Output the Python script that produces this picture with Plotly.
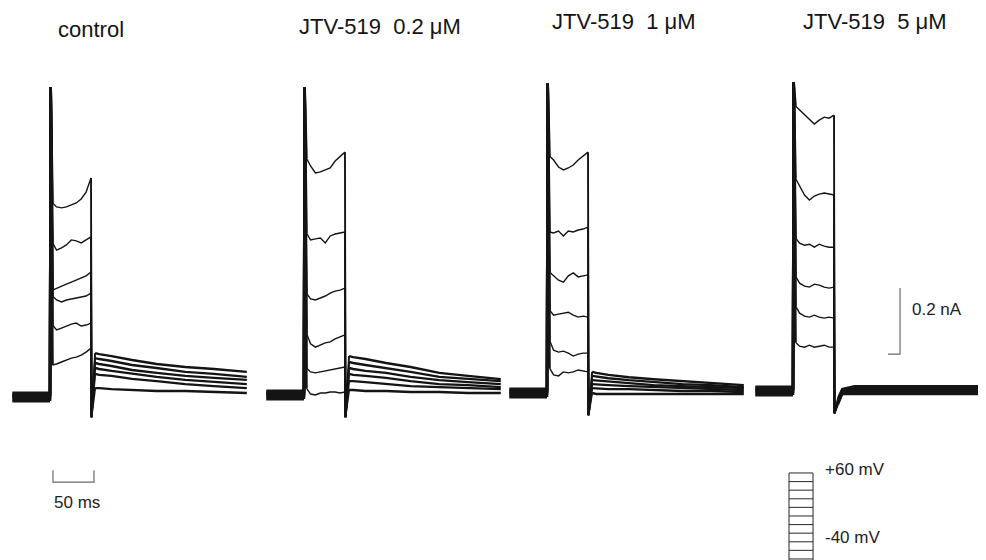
import plotly.graph_objects as go

# ---------------- data ----------------
PANEL_LABELS = ["control", "JTV-519\u00a0\u00a00.2 \u03bcM", "JTV-519\u00a0\u00a01 \u03bcM", "JTV-519\u00a0\u00a05 \u03bcM"]

# time points (ms, relative to step onset)
PRE_T = [-46, 0]
SPIKE_T = 0.8
STEP_T = [3, 8, 14, 20, 26, 32, 38, 44, 50]
OFF_T = 50.6
TAIL_T = [55, 60, 75, 100, 130, 165, 200, 240]

# holding current spread of the overlaid sweeps (nA, relative to baseline)
PRE_LEVELS = [0.012, 0.006, 0.000, -0.006, -0.012, 0.003]

SPIKE_PEAK = [0.939, 0.933, 0.939, 0.936]          # capacitive transient peak (nA)
OFF_UNDERSHOOT = [-0.061, -0.067, -0.067, -0.067]  # off transient (nA)

step_control = [
    [0.588, 0.576, 0.573, 0.576, 0.582, 0.588, 0.600, 0.621, 0.664],
    [0.467, 0.445, 0.452, 0.461, 0.476, 0.473, 0.467, 0.476, 0.485],
    [0.324, 0.330, 0.336, 0.342, 0.348, 0.355, 0.361, 0.367, 0.379],
    [0.306, 0.294, 0.288, 0.294, 0.297, 0.300, 0.303, 0.306, 0.315],
    [0.218, 0.203, 0.209, 0.215, 0.221, 0.224, 0.215, 0.218, 0.224],
    [0.097, 0.100, 0.106, 0.112, 0.118, 0.121, 0.127, 0.136, 0.148],
]
step_jtv02 = [
    [0.718, 0.694, 0.673, 0.676, 0.682, 0.688, 0.709, 0.724, 0.736],
    [0.491, 0.470, 0.473, 0.476, 0.461, 0.482, 0.488, 0.491, 0.494],
    [0.309, 0.291, 0.288, 0.294, 0.300, 0.309, 0.315, 0.318, 0.324],
    [0.188, 0.155, 0.145, 0.152, 0.158, 0.161, 0.170, 0.176, 0.182],
    [0.082, 0.070, 0.067, 0.070, 0.073, 0.076, 0.079, 0.082, 0.085],
    [0.021, 0.003, 0.000, 0.006, 0.006, 0.009, 0.009, 0.006, 0.009],
]
step_jtv1 = [
    [0.718, 0.706, 0.685, 0.676, 0.682, 0.691, 0.706, 0.718, 0.730],
    [0.488, 0.485, 0.491, 0.476, 0.491, 0.488, 0.494, 0.497, 0.503],
    [0.367, 0.355, 0.342, 0.336, 0.355, 0.364, 0.352, 0.355, 0.358],
    [0.252, 0.236, 0.239, 0.242, 0.245, 0.236, 0.230, 0.233, 0.230],
    [0.161, 0.130, 0.124, 0.127, 0.121, 0.112, 0.118, 0.121, 0.121],
    [0.076, 0.055, 0.052, 0.064, 0.061, 0.064, 0.070, 0.067, 0.064],
]
step_jtv5 = [
    [0.864, 0.852, 0.836, 0.821, 0.809, 0.821, 0.830, 0.827, 0.836],
    [0.645, 0.621, 0.594, 0.579, 0.591, 0.597, 0.600, 0.597, 0.594],
    [0.464, 0.448, 0.442, 0.445, 0.436, 0.445, 0.439, 0.436, 0.436],
    [0.348, 0.327, 0.318, 0.315, 0.324, 0.321, 0.315, 0.312, 0.315],
    [0.258, 0.236, 0.227, 0.224, 0.230, 0.224, 0.221, 0.224, 0.221],
    [0.148, 0.136, 0.133, 0.139, 0.133, 0.136, 0.139, 0.133, 0.133],
]

tail_control = [
    [0.133, 0.130, 0.124, 0.112, 0.100, 0.091, 0.085, 0.076],
    [0.118, 0.115, 0.109, 0.097, 0.088, 0.076, 0.070, 0.061],
    [0.103, 0.100, 0.094, 0.082, 0.073, 0.064, 0.058, 0.052],
    [0.088, 0.085, 0.079, 0.070, 0.061, 0.052, 0.045, 0.039],
    [0.070, 0.067, 0.064, 0.055, 0.048, 0.039, 0.033, 0.027],
    [0.027, 0.027, 0.024, 0.021, 0.018, 0.018, 0.015, 0.012],
]
tail_jtv02 = [
    [0.118, 0.115, 0.109, 0.097, 0.085, 0.067, 0.058, 0.048],
    [0.100, 0.097, 0.091, 0.082, 0.070, 0.055, 0.048, 0.042],
    [0.082, 0.079, 0.073, 0.067, 0.055, 0.045, 0.039, 0.033],
    [0.064, 0.061, 0.058, 0.052, 0.042, 0.033, 0.030, 0.024],
    [0.042, 0.042, 0.039, 0.033, 0.027, 0.024, 0.021, 0.018],
    [0.015, 0.015, 0.012, 0.012, 0.009, 0.009, 0.006, 0.006],
]
tail_jtv1 = [
    [0.064, 0.061, 0.055, 0.048, 0.042, 0.036, 0.030, 0.024],
    [0.052, 0.050, 0.045, 0.039, 0.033, 0.027, 0.024, 0.018],
    [0.039, 0.038, 0.036, 0.030, 0.024, 0.021, 0.018, 0.015],
    [0.027, 0.026, 0.024, 0.021, 0.018, 0.015, 0.012, 0.009],
    [0.015, 0.014, 0.012, 0.012, 0.009, 0.006, 0.006, 0.003],
    [0.000, -0.003, -0.003, -0.003, -0.003, -0.003, -0.003, -0.003],
]
tail_jtv5 = [
    [-0.021, 0.006, 0.015, 0.015, 0.015, 0.015, 0.015, 0.015],
    [-0.027, 0.003, 0.009, 0.009, 0.009, 0.009, 0.009, 0.009],
    [-0.030, 0.000, 0.003, 0.003, 0.003, 0.003, 0.003, 0.003],
    [-0.033, -0.003, 0.000, 0.000, 0.000, 0.000, 0.000, 0.000],
    [-0.036, -0.006, -0.006, -0.006, -0.006, -0.006, -0.006, -0.006],
    [-0.039, -0.009, -0.009, -0.009, -0.009, -0.009, -0.009, -0.009],
]

STEPS = [step_control, step_jtv02, step_jtv1, step_jtv5]
TAILS = [tail_control, tail_jtv02, tail_jtv1, tail_jtv5]

# scale bars
SCALE_TIME_MS = 50
SCALE_CURRENT_NA = 0.2
SCALE_TIME_LABEL = "50 ms"
SCALE_CURRENT_LABEL = "0.2 nA"

# voltage protocol (mV)
PROTOCOL_MV = [60, 50, 40, 30, 20, 10, 0, -10, -20, -30, -40]
PROTOCOL_LABELS = ["+60 mV", "-40 mV"]

# ---------------- layout constants ----------------
PANEL_X0 = [61.0, 370.7, 667.1, 967.1]     # ms position of each step onset
PANEL_Y0 = [0.0, 0.006, 0.012, 0.018]       # nA baseline of each panel
OFF = 8                                      # page body margin (px)
X_RANGE = [OFF / 0.82, OFF / 0.82 + 986 / 0.82]
Y_RANGE = [(397 - OFF - 560) / 330, (397 - OFF) / 330]
V_PER_PX = 651.2 / 560
V_RANGE = [-41.2 - OFF * V_PER_PX, 610 - OFF * V_PER_PX]

INK = "#141414"
GREY = "#6a6a6a"
FONT = "Liberation Sans, Arial, Helvetica, sans-serif"

fig = go.Figure()


def line(xs, ys, width, color=INK, yaxis="y"):
    fig.add_trace(go.Scatter(x=xs, y=ys, mode="lines", yaxis=yaxis,
                             line=dict(color=color, width=width),
                             hoverinfo="skip", showlegend=False))


for p in range(4):
    x0, y0 = PANEL_X0[p], PANEL_Y0[p]
    for i in range(len(STEPS[p])):
        pre_x = [x0 + t for t in PRE_T]
        pre_y = [y0 + PRE_LEVELS[i]] * len(PRE_T)
        step_x = [x0 + SPIKE_T] + [x0 + t for t in STEP_T]
        step_y = [y0 + SPIKE_PEAK[p]] + [y0 + v for v in STEPS[p][i]]
        tail_x = [x0 + OFF_T] + [x0 + t for t in TAIL_T]
        tail_y = [y0 + OFF_UNDERSHOOT[p]] + [y0 + v for v in TAILS[p][i]]
        # holding segment (noisy, drawn thick)
        line(pre_x, pre_y, 3.0)
        # onset capacitive transient (overlapping sweeps, drawn heavy)
        line(pre_x[-1:] + step_x[:2], pre_y[-1:] + step_y[:2], 2.6)
        # test pulse
        line(step_x[1:], step_y[1:], 1.4)
        # step end (off transient)
        line(step_x[-1:] + tail_x[:2], step_y[-1:] + tail_y[:2], 1.9)
        # tail (noisy, drawn thick)
        line(tail_x[1:], tail_y[1:], 2.4)

# time scale bar
tb_x0, tb_y, tb_tick = 64.6, -0.258, 0.036
line([tb_x0, tb_x0, tb_x0 + SCALE_TIME_MS, tb_x0 + SCALE_TIME_MS],
     [tb_y + tb_tick, tb_y, tb_y, tb_y + tb_tick], 1.2, GREY)

# current scale bar
cb_x, cb_y0, cb_tick = 1097.6, 0.130, 14.6
line([cb_x - cb_tick, cb_x, cb_x], [cb_y0, cb_y0, cb_y0 + SCALE_CURRENT_NA], 1.2, GREY)

# voltage protocol box
vp_x0, vp_x1 = 962.2, 991.5
for v in PROTOCOL_MV:
    line([vp_x0, vp_x1], [v, v], 1.1, "#3a3a3a", "y2")
for xv in (vp_x0, vp_x1):
    line([xv, xv], [PROTOCOL_MV[0], V_RANGE[0]], 1.1, "#3a3a3a", "y2")

annotations = []
title_pos = [(91, 30), (380, 27), (624, 21), (875, 21)]
for lab, (px, py) in zip(PANEL_LABELS, title_pos):
    annotations.append(dict(text=lab, x=(px - OFF) / 986, y=1 - (py - OFF) / 560,
                            xref="paper", yref="paper",
                            xanchor="center", yanchor="middle", showarrow=False,
                            font=dict(family=FONT, size=22, color=INK)))

annotations.append(dict(text=SCALE_TIME_LABEL, x=63.4, y=-0.321, xref="x", yref="y",
                        xanchor="left", yanchor="middle", showarrow=False,
                        font=dict(family=FONT, size=17, color="#222")))
annotations.append(dict(text=SCALE_CURRENT_LABEL, x=1109.8, y=0.264, xref="x", yref="y",
                        xanchor="left", yanchor="middle", showarrow=False,
                        font=dict(family=FONT, size=17, color="#222")))
for lab, v in zip(PROTOCOL_LABELS, [63.5, -15.6]):
    annotations.append(dict(text=lab, x=1003.7, y=v, xref="x", yref="y2",
                            xanchor="left", yanchor="middle", showarrow=False,
                            font=dict(family=FONT, size=17, color="#222")))

fig.update_layout(
    width=986, height=560,
    margin=dict(l=0, r=0, t=0, b=0),
    paper_bgcolor="white", plot_bgcolor="white",
    xaxis=dict(range=X_RANGE, visible=False, fixedrange=True),
    yaxis=dict(range=Y_RANGE, visible=False, fixedrange=True),
    yaxis2=dict(range=V_RANGE, visible=False, overlaying="y", fixedrange=True),
    annotations=annotations,
    showlegend=False,
)

fig.write_html("out.html")
